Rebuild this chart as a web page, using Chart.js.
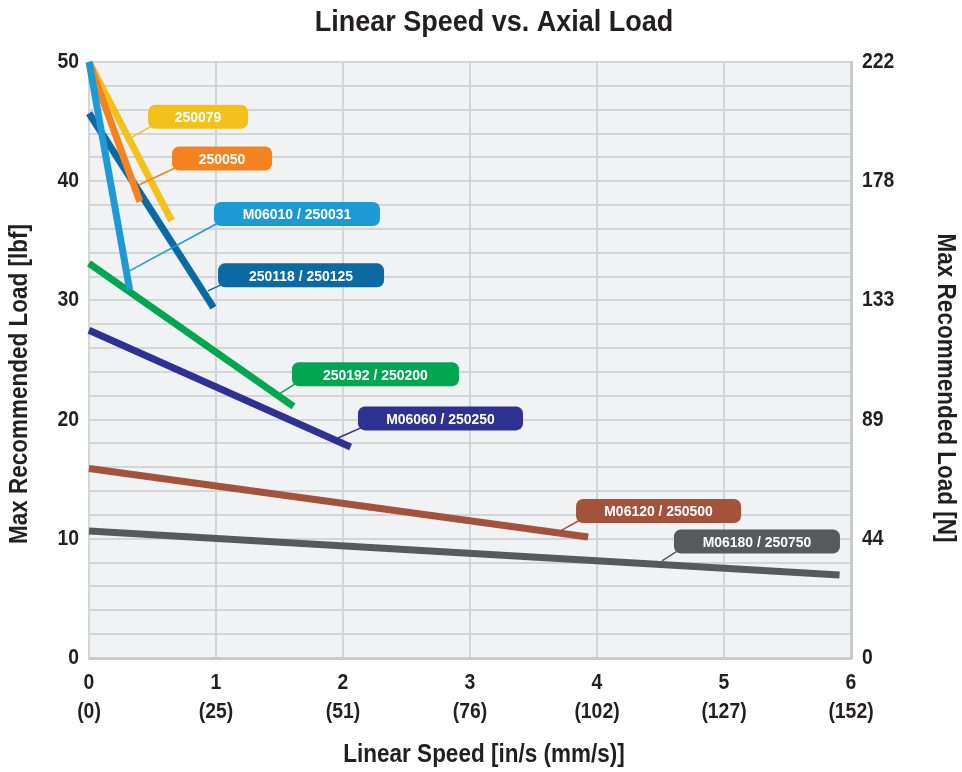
<!DOCTYPE html>
<html>
<head>
<meta charset="utf-8">
<script src="https://cdn.jsdelivr.net/npm/chart.js@4.4.0/dist/chart.umd.min.js"></script>
<style>
  body { margin: 0; background: #fff; }
  #wrap { width: 962px; height: 772px; }
</style>
</head>
<body>
<div id="wrap"><canvas id="grafica"></canvas></div>
<script>
// --- DATOS ---
const speedTicks = [0, 1, 2, 3, 4, 5, 6];
const speedTicksMm = ['(0)', '(25)', '(51)', '(76)', '(102)', '(127)', '(152)'];
const loadTicksLbf = [0, 10, 20, 30, 40, 50];
const loadTicksN = ['0', '44', '89', '133', '178', '222'];

const seriesNames = ['250079', '250050', 'M06010 / 250031', '250118 / 250125',
  '250192 / 250200', 'M06060 / 250250', 'M06120 / 250500', 'M06180 / 250750'];

// velocidad [in/s] en cada extremo de cada recta
const speed250079 = [0, 0.65];
const speed250050 = [0, 0.40];
const speedM06010 = [0, 0.32];
const speed250118 = [0, 0.98];
const speed250192 = [0, 1.61];
const speedM06060 = [0, 2.06];
const speedM06120 = [0, 3.93];
const speedM06180 = [0, 5.91];

// carga [lbf]
const load250079 = [50, 36.7];
const load250050 = [50, 38.3];
const loadM06010 = [50, 30.9];
const load250118 = [45.7, 29.4];
const load250192 = [33.1, 21.1];
const loadM06060 = [27.5, 17.7];
const loadM06120 = [15.9, 10.15];
const loadM06180 = [10.65, 6.96];

// --- ESTILO ---
const colores = ['#f2c11b', '#f58220', '#1b9ad6', '#0b6aa2', '#00a650', '#2e3192', '#a3523c', '#58595b'];
const ordenDibujo = [3, 2, 1, 5, 4, 6, 7, 8]; // menor = encima
const FUENTE = '"Liberation Sans", Arial, sans-serif';
const ESTRECHO = 0.9; // la fuente original es algo condensada
const COLOR_TEXTO = '#231f20';

// etiquetas: punta sobre la recta y caja (en unidades de los ejes)
const etiquetas = [
  { punta: [0.339, 43.7], caja: [0.465, 45.4], ancho: 100 },
  { punta: [0.395, 39.7], caja: [0.654, 41.9], ancho: 100 },
  { punta: [0.323, 32.5], caja: [0.984, 37.25], ancho: 166 },
  { punta: [0.937, 30.8], caja: [1.016, 32.1], ancho: 166 },
  { punta: [1.504, 22.2], caja: [1.598, 23.8], ancho: 167 },
  { punta: [1.961, 18.46], caja: [2.118, 20.1], ancho: 165 },
  { punta: [3.709, 10.65], caja: [3.835, 12.33], ancho: 165 },
  { punta: [4.512, 8.14], caja: [4.606, 9.77], ancho: 166 }
];

const speeds = [speed250079, speed250050, speedM06010, speed250118, speed250192, speedM06060, speedM06120, speedM06180];
const loads = [load250079, load250050, loadM06010, load250118, load250192, loadM06060, loadM06120, loadM06180];

const datasets = seriesNames.map((nombre, i) => ({
  label: nombre,
  data: speeds[i].map((x, k) => ({ x: x, y: loads[i][k] })),
  borderColor: colores[i],
  backgroundColor: colores[i],
  borderWidth: 7,
  borderCapStyle: 'butt',
  pointRadius: 0,
  tension: 0,
  clip: false,
  order: ordenDibujo[i]
}));

function redondeado(ctx, x, y, w, h, r) {
  ctx.beginPath();
  ctx.moveTo(x + r, y);
  ctx.arcTo(x + w, y, x + w, y + h, r);
  ctx.arcTo(x + w, y + h, x, y + h, r);
  ctx.arcTo(x, y + h, x, y, r);
  ctx.arcTo(x, y, x + w, y, r);
  ctx.closePath();
}

// texto condensado (escala horizontal), con rotación opcional
function texto(ctx, str, x, y, size, align, rot) {
  ctx.save();
  ctx.translate(x, y);
  if (rot) ctx.rotate(rot);
  ctx.scale(ESTRECHO, 1);
  ctx.font = 'bold ' + size + 'px ' + FUENTE;
  ctx.textAlign = align;
  ctx.textBaseline = 'middle';
  ctx.fillText(str, 0, 0);
  ctx.restore();
}

// ================= PLUGINS =================
const fondoArea = {
  id: 'fondoArea',
  beforeDraw(chart) {
    const { ctx, chartArea: a } = chart;
    ctx.save();
    ctx.fillStyle = '#f1f2f4';
    ctx.fillRect(a.left, a.top, a.right - a.left, a.bottom - a.top);
    ctx.restore();
  }
};

const etiquetasSeries = {
  id: 'etiquetasSeries',
  afterDatasetsDraw(chart) {
    const { ctx, scales } = chart;
    const sx = scales.x, sy = scales.y;
    const alto = 24;
    ctx.save();
    etiquetas.forEach((e, i) => {
      const px = sx.getPixelForValue(e.punta[0]);
      const py = sy.getPixelForValue(e.punta[1]);
      const bx = sx.getPixelForValue(e.caja[0]);
      const by = sy.getPixelForValue(e.caja[1]) - alto / 2;
      ctx.strokeStyle = colores[i];
      ctx.lineWidth = 1.5;
      ctx.beginPath();
      ctx.moveTo(px, py);
      ctx.lineTo(bx + 4, by + alto - 3);
      ctx.stroke();
      ctx.fillStyle = colores[i];
      redondeado(ctx, bx, by, e.ancho, alto, 7);
      ctx.fill();
      ctx.fillStyle = '#ffffff';
      texto(ctx, seriesNames[i], bx + e.ancho / 2, by + alto / 2 + 1, 15.5, 'center');
    });
    ctx.restore();
  }
};

const textos = {
  id: 'textos',
  afterDraw(chart) {
    const { ctx, chartArea: a, scales } = chart;
    ctx.save();
    ctx.fillStyle = COLOR_TEXTO;
    // etiquetas de los ejes
    loadTicksLbf.forEach((v, k) => {
      const y = scales.y.getPixelForValue(v);
      texto(ctx, String(v), a.left - 10, y, 21.5, 'right');
      texto(ctx, loadTicksN[k], a.right + 11, y, 21.5, 'left');
    });
    speedTicks.forEach((v, k) => {
      const x = scales.x.getPixelForValue(v);
      texto(ctx, String(v), x, a.bottom + 25, 21.5, 'center');
      texto(ctx, speedTicksMm[k], x, a.bottom + 54, 21.5, 'center');
    });
    // títulos
    texto(ctx, 'Linear Speed vs. Axial Load', 494, 23, 30, 'center');
    texto(ctx, 'Linear Speed [in/s (mm/s)]', 484, 755, 25, 'center');
    texto(ctx, 'Max Recommended Load [lbf]', 20, 384, 25, 'center', -Math.PI / 2);
    texto(ctx, 'Max Recommended Load [N]', 945, 388, 25, 'center', Math.PI / 2);
    ctx.restore();
  }
};

// ================= GRÁFICA =================
new Chart(document.getElementById('grafica'), {
  type: 'line',
  data: { datasets: datasets },
  options: {
    responsive: true,
    maintainAspectRatio: false,
    animation: false,
    layout: { padding: { top: 62, left: 0, right: 0, bottom: 0 } },
    plugins: { legend: { display: false }, tooltip: { enabled: false } },
    scales: {
      x: {
        type: 'linear',
        min: 0, max: 6,
        afterFit: s => { s.height = 114; },
        afterBuildTicks: s => { s.ticks = speedTicks.map(v => ({ value: v })); },
        ticks: { display: false },
        grid: { color: '#d4d5d7', lineWidth: 2, drawTicks: false },
        border: { color: '#c9cacc', width: 3 }
      },
      y: {
        position: 'left',
        min: 0, max: 50,
        afterFit: s => { s.width = 89; },
        ticks: { display: false, stepSize: 2, autoSkip: false },
        grid: { color: '#d4d5d7', lineWidth: 2, drawTicks: false },
        border: { color: '#d4d5d7', width: 2 }
      },
      y2: {
        position: 'right',
        min: 0, max: 50,
        afterFit: s => { s.width = 111; },
        ticks: { display: false },
        grid: { display: false, drawTicks: false },
        border: { color: '#c9cacc', width: 3 }
      }
    }
  },
  plugins: [fondoArea, etiquetasSeries, textos]
});
</script>
</body>
</html>
